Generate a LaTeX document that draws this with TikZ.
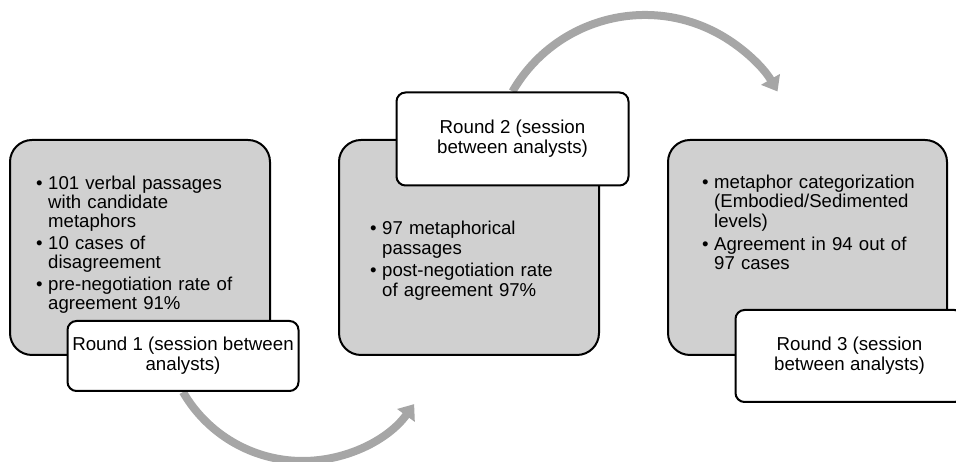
\documentclass[tikz,border=0pt]{standalone}
\usepackage{fontspec}
\setmainfont{Liberation Sans}
\usetikzlibrary{positioning, arrows.meta, backgrounds}
\definecolor{boxgray}{RGB}{208,208,208}
\definecolor{arcgray}{RGB}{166,166,166}
\newcommand{\itm}[1]{\hangindent=12pt\hangafter=1\noindent\makebox[12pt][l]{\textbullet}#1\par}
\tikzset{
	x=1pt, y=1pt,
	node distance=67pt,
	panel/.style={draw, line width=2pt, fill=boxgray, rounded corners=22pt, minimum width=260pt, minimum height=215pt, inner sep=0pt},
	tag/.style={draw, line width=2pt, fill=white, rounded corners=9pt, minimum width=231pt, inner sep=0pt, align=center, font=\fontsize{18.7}{20}\selectfont},
	bullets/.style={inner sep=0pt, text width=#1, align=left, anchor=north west},
	flow/.style={draw=arcgray, line width=8pt, -{Triangle[width=21pt,length=14pt]}},
}

\begin{document}
\begin{tikzpicture}
			\useasboundingbox (0,0) rectangle (956,462);
			\node[panel] (BOX1) at (140,214.5) {};
			\node[panel, right=of BOX1] (BOX2) {};
			\node[panel, right=of BOX2, minimum width=279pt] (BOX3) {};
			
			\node[bullets=230pt, font=\fontsize{18.6}{19}\selectfont\setlength{\parskip}{3pt}] (TXT1) at ([xshift=27pt, yshift=-37pt]BOX1.north west) {\itm{101 verbal passages\newline with candidate\newline metaphors}\itm{10 cases of\newline disagreement}\itm{pre-negotiation rate of\newline agreement 91\%}};
			\node[bullets=230pt, font=\fontsize{18.6}{20}\selectfont\setlength{\parskip}{1.7pt}] (TXT2) at ([xshift=32pt, yshift=-82pt]BOX2.north west) {\itm{97 metaphorical\newline passages}\itm{post-negotiation rate\newline of agreement 97\%}};
			\node[bullets=250pt, font=\fontsize{18.6}{19.3}\selectfont\setlength{\parskip}{4pt}] (TXT3) at ([xshift=35pt, yshift=-36pt]BOX3.north west) {\itm{metaphor categorization\newline (Embodied/Sedimented\newline levels)}\itm{Agreement in 94 out of\newline 97 cases}};
			
			\node[tag, minimum height=70pt] (ROUND1) at ([xshift=43pt]BOX1.south) {Round 1 (session between\\analysts)};
			\node[tag, minimum height=93pt, minimum width=232pt] (ROUND2) at ([xshift=43.5pt]BOX2.north) {Round 2 (session\\between analysts)};
			\node[tag, minimum height=92pt, minimum width=228pt] (ROUND3) at ([xshift=42pt]BOX3.south) {Round 3 (session\\between analysts)};
			
			\begin{pgfonlayer}{background}
				\draw[flow] (ROUND1.south) arc[start angle=210, end angle=324, radius=138];
				\draw[flow] (ROUND2.north) arc[start angle=150, end angle=30, radius=153];
			\end{pgfonlayer}
		\end{tikzpicture}
\end{document}
